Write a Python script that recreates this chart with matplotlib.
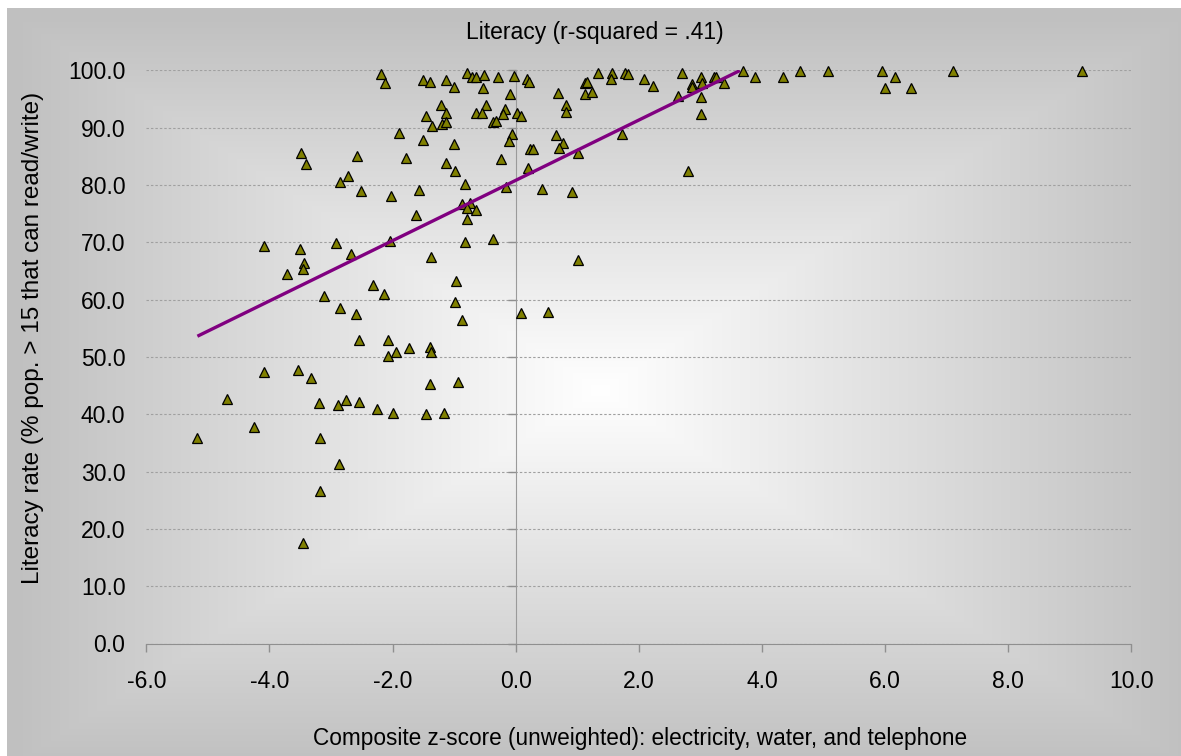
import numpy as np
import matplotlib
matplotlib.use("Agg")
import matplotlib.pyplot as plt

plt.rcParams["font.family"] = ["Liberation Sans", "DejaVu Sans"]

# Composite z-score (electricity, water, telephone) per country
zscore = [
    -2.19, -2.12, -1.51, -1.40, -1.13, -1.00, -0.79, -0.71, -0.64, -0.51,
    -0.53, -0.28, -0.02, 0.18, 0.22, -0.09, -1.21, -1.14, -1.46, -1.36,
    -1.20, -1.13, -0.49, -0.65, -0.55, -0.18, -0.21, -0.37, -0.32, 0.02,
    0.09, -0.06, -0.11, -1.90, -1.51, -1.01, -3.48, -3.41, -2.57, -1.78,
    -1.13, -0.99, -0.24, 0.24, 0.28, 0.20, -2.72, -2.85, -2.51, -2.03,
    -1.57, -0.83, -0.15, -1.62, -0.87, -0.74, -0.79, -0.64, -0.79, -4.09,
    -3.50, -2.92, -2.68, -2.04, -0.83, -0.37, -1.38, -3.44, -3.45, -3.72,
    -2.31, -2.14, -0.97, -3.12, -0.98, -2.85, -2.59, -0.87, 0.09, 0.53,
    -2.55, -2.08, -1.73, -1.94, -2.07, -1.39, -1.38, -4.09, -3.53, -3.32,
    -1.40, -0.94, -4.69, -3.19, -2.88, -2.75, -2.55, -2.26, -1.99, -1.46,
    -1.16, -4.25, -5.17, -3.18, -2.87, -3.18, -3.45,
    1.34, 1.57, 1.54, 1.78, 1.83, 2.08, 2.23, 2.70, 3.01, 3.22,
    3.25, 2.87, 2.86, 3.02, 3.38, 3.69, 3.88, 4.34, 4.62, 5.07,
    5.95, 6.16, 6.00, 6.42, 7.11, 9.20, 0.69, 0.82, 0.81, 1.13,
    1.16, 1.13, 1.24, 2.64, 3.01, 3.01, 0.65, 0.76, 0.71, 1.73,
    1.01, 0.42, 0.92, 2.80, 1.01,
]

# Literacy rate (% of population over 15 that can read/write)
literacy = [
    99.4, 97.7, 98.3, 97.9, 98.3, 97.1, 99.5, 98.8, 98.9, 99.2,
    96.9, 98.9, 99.0, 98.5, 98.0, 95.9, 93.9, 92.5, 92.1, 90.3,
    90.6, 90.9, 94.0, 92.5, 92.5, 93.3, 92.4, 90.9, 91.2, 92.5,
    92.0, 88.9, 87.7, 89.0, 87.8, 87.1, 85.6, 83.7, 85.0, 84.7,
    83.9, 82.5, 84.6, 86.3, 86.2, 82.9, 81.6, 80.5, 78.9, 78.1,
    79.2, 80.1, 79.6, 74.8, 76.7, 76.8, 75.9, 75.6, 74.1, 69.3,
    68.8, 69.9, 68.0, 70.3, 70.0, 70.6, 67.4, 66.3, 65.3, 64.5,
    62.5, 61.0, 63.2, 60.7, 59.5, 58.6, 57.5, 56.4, 57.6, 57.9,
    52.9, 52.9, 51.6, 50.9, 50.2, 51.7, 50.8, 47.4, 47.8, 46.3,
    45.2, 45.6, 42.7, 42.0, 41.6, 42.4, 42.1, 40.9, 40.2, 40.0,
    40.3, 37.8, 35.9, 35.8, 31.4, 26.6, 17.6,
    99.6, 99.6, 98.4, 99.6, 99.4, 98.5, 97.3, 99.6, 98.9, 98.9,
    98.9, 97.6, 97.0, 97.7, 97.8, 99.9, 98.9, 98.9, 99.9, 99.9,
    99.9, 98.9, 96.9, 96.9, 99.9, 99.8, 96.1, 94.0, 92.8, 97.8,
    98.0, 95.9, 96.3, 95.6, 95.3, 92.4, 88.7, 87.3, 86.4, 88.9,
    85.5, 79.3, 78.7, 82.4, 66.9,
]

# Linear trend: literacy = intercept + slope * zscore
trend_intercept = 80.8
trend_slope = 5.26
trend_range = [-5.17, 3.64]

x_ticks = [-6, -4, -2, 0, 2, 4, 6, 8, 10]
y_ticks = [0, 10, 20, 30, 40, 50, 60, 70, 80, 90, 100]

title = "Literacy (r-squared = .41)"
x_label = "Composite z-score (unweighted): electricity, water, and telephone"
y_label = "Literacy rate (% pop. > 15 that can read/write)"

W, H, DPI = 1181, 756, 100
fig = plt.figure(figsize=(W / DPI, H / DPI), dpi=DPI, facecolor="white")

# Chart area background: rectangular path gradient, white centre to grey edges
bx0, by_top = 7, 8
bg = fig.add_axes([bx0 / W, 0, 1 - bx0 / W, 1 - by_top / H], zorder=-10)
bg.axis("off")
gw, gh = W - bx0, H - by_top
gx = np.arange(gw)[None, :]
gy = np.arange(gh)[:, None]
cx, cy = 600 - bx0, 390 - by_top
d = np.maximum(np.abs(gx - cx) / (gw / 2), np.abs(gy - cy) / (gh / 2))
d = np.clip(d, 0, 1)
edge, centre = 192 / 255, 1.0
val = centre - (centre - edge) * d
img = np.dstack([val, val, val])
bg.imshow(img, aspect="auto", interpolation="bilinear", extent=[0, 1, 0, 1])
bg.set_xlim(0, 1)
bg.set_ylim(0, 1)

# Plot area
left, right, top, bottom = 146.3, 1131.4, 70.3, 643.5
ax = fig.add_axes([left / W, 1 - bottom / H, (right - left) / W, (bottom - top) / H])
ax.set_facecolor("none")
ax.set_xlim(-6, 10)
ax.set_ylim(0, 100)

axis_grey = "#8f8f8f"
for s in ("top", "right"):
    ax.spines[s].set_visible(False)
ax.spines["left"].set_position(("data", 0))
ax.spines["left"].set_color("#9a9a9a")
ax.spines["bottom"].set_color(axis_grey)

ax.set_xticks(x_ticks)
ax.set_xticklabels([f"{v:.1f}" for v in x_ticks])
ax.set_yticks(y_ticks)
ax.tick_params(axis="x", direction="out", length=6, width=1, color=axis_grey,
               pad=13, labelsize=16.5)
ax.tick_params(axis="y", direction="out", length=6, width=1, color=axis_grey,
               labelleft=False)

ax.yaxis.grid(True, linestyle=(0, (2.2, 1.8)), color="#a0a0a0", linewidth=0.8)
ax.set_axisbelow(True)

# Value labels sit at the left edge of the plot area
sec = ax.secondary_yaxis("left")
sec.spines["left"].set_visible(False)
sec.set_yticks(y_ticks)
sec.set_yticklabels([f"{v:.1f}" for v in y_ticks])
sec.tick_params(length=0, pad=15, labelsize=16.5)

ax.plot(zscore, literacy, linestyle="none", marker="^", markersize=7.5,
        markerfacecolor="#808000", markeredgecolor="black", markeredgewidth=0.9,
        zorder=3, clip_on=False)

tx = np.array(trend_range)
ax.plot(tx, trend_intercept + trend_slope * tx, color="#800080", linewidth=2.4,
        solid_capstyle="butt", zorder=4)

fig.text(595 / W, 1 - 33 / H, title, ha="center", va="center", fontsize=16.5)
fig.text(640 / W, 1 - 738 / H, x_label, ha="center", va="center", fontsize=16.3)
fig.text(33 / W, 1 - 338 / H, y_label, ha="center", va="center", rotation=90,
         fontsize=17.5)

fig.savefig("out.png", dpi=DPI, facecolor="white")
